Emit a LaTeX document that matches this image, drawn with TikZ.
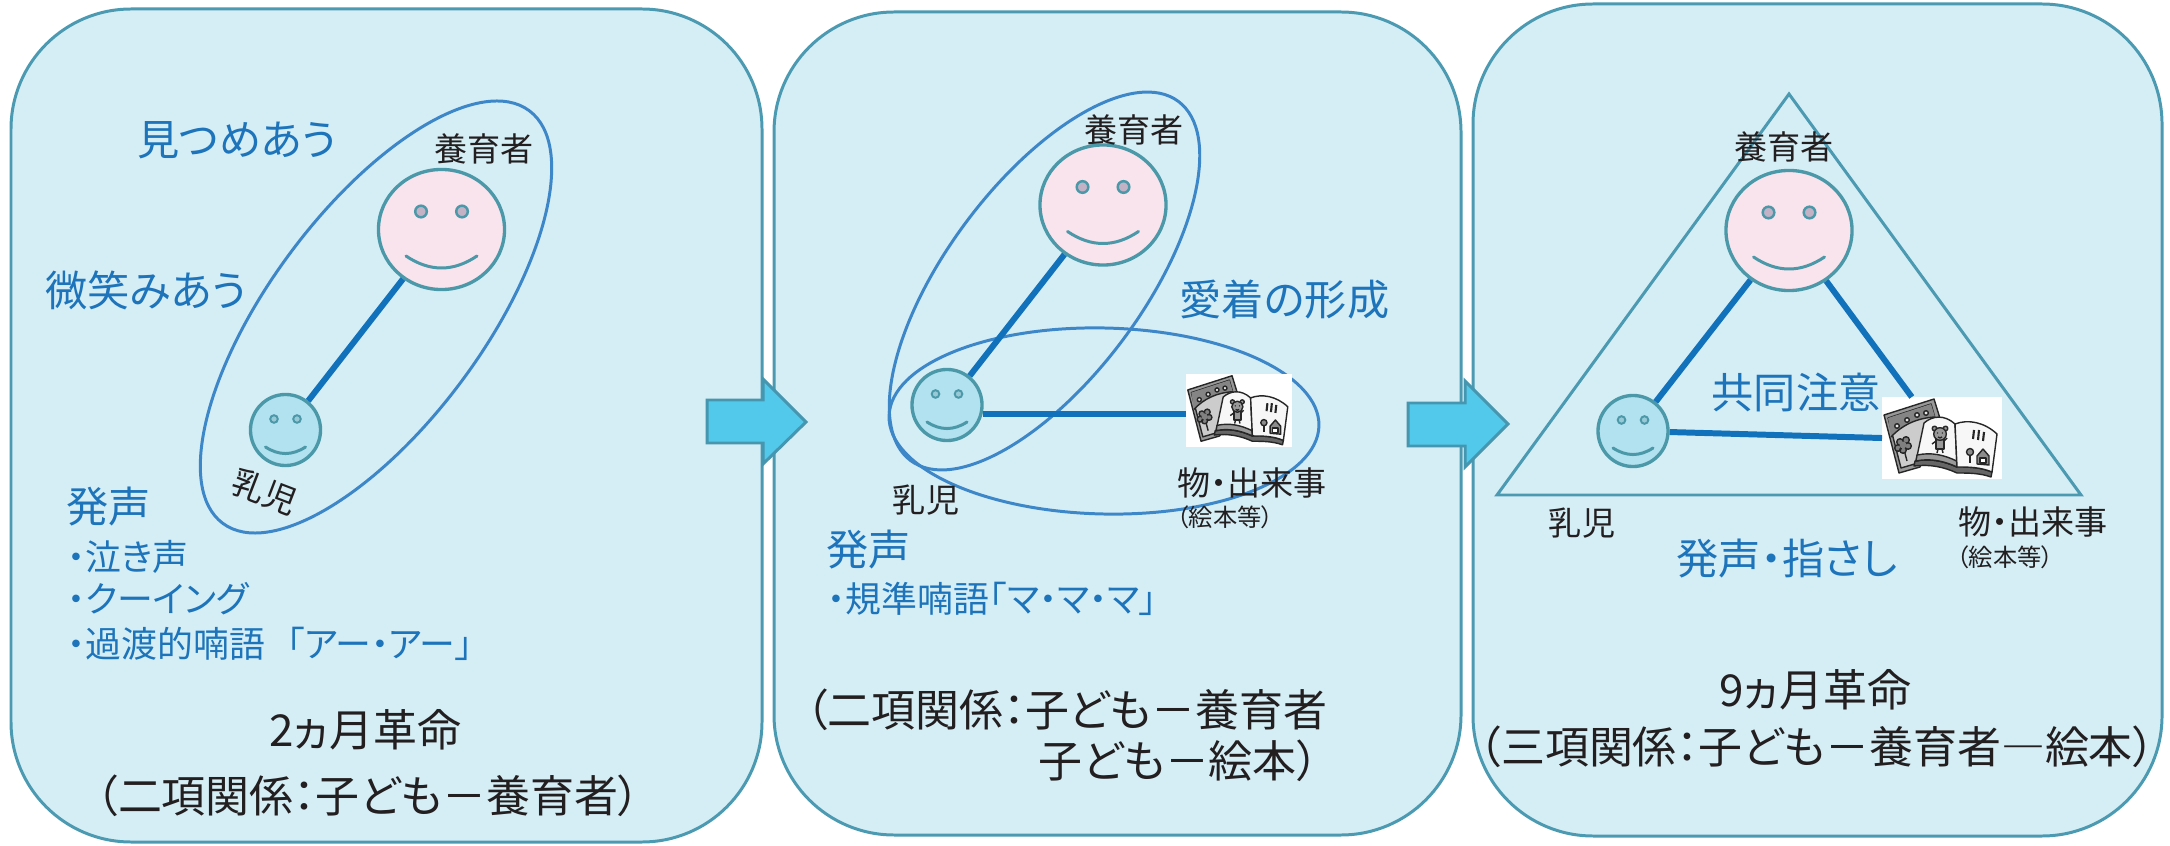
\documentclass[tikz,border=0pt]{standalone}
\usepackage{fontspec}
\setmainfont{Noto Sans CJK JP}[RawFeature=+palt]
\usetikzlibrary{shapes.geometric}

\definecolor{panelfill}{HTML}{D5EEF6}
\definecolor{panelline}{HTML}{4B9AB1}
\definecolor{grpline}{HTML}{3D87C9}
\definecolor{linkblue}{HTML}{1172BB}
\definecolor{facec}{HTML}{4A98A8}
\definecolor{pinkfill}{HTML}{F9E3EC}
\definecolor{babyfill}{HTML}{B2E1F0}
\definecolor{eyefill}{HTML}{C3B2C6}
\definecolor{babyeye}{HTML}{97C9D6}
\definecolor{bluetext}{HTML}{1D74BA}
\definecolor{blacktext}{HTML}{231F20}
\definecolor{arrowfill}{HTML}{52C9EB}
\definecolor{arrowline}{HTML}{4796AF}

\newcommand\fsHead{\fontsize{12}{14}\selectfont}
\newcommand\fsLabel{\fontsize{9.4}{11}\selectfont}
\newcommand\fsSmall{\fontsize{6.9}{8}\selectfont}
\newcommand\fsItem{\fontsize{10.2}{12}\selectfont}
\newcommand\fsCap{\fontsize{12.5}{15}\selectfont}

\tikzset{
  panel/.style={draw=panelline, fill=panelfill, line width=0.85pt, rounded corners=1.2cm},
  bigarrow/.style={draw=arrowline, fill=arrowfill, line width=0.85pt, line join=miter},
  grp/.style={draw=grpline, line width=0.85pt},
  tri/.style={draw=panelline, line width=0.85pt, line join=miter},
  link/.style={draw=linkblue, line width=1.7pt},
  face/.style={ellipse, draw=facec, line width=0.95pt, inner sep=0pt},
  smile/.style={draw=facec, line width=0.85pt, line cap=round},
  eye/.style={draw=facec, line width=0.7pt, fill=eyefill},
  headtxt/.style={text=bluetext, inner sep=0pt, font=\fsHead},
  itemtxt/.style={text=bluetext, inner sep=0pt, font=\fsItem, anchor=west},
  labeltxt/.style={text=blacktext, inner sep=0pt, font=\fsLabel},
  smalltxt/.style={text=blacktext, inner sep=0pt, font=\fsSmall, anchor=west},
  captxt/.style={text=blacktext, inner sep=0pt, font=\fsCap},
  adult/.pic={
    \node[face, fill=pinkfill, minimum width=1.26cm, minimum height=1.2cm] (-face) at (0,0) {};
    \path[eye] (-20.5,-18) circle[radius=5.8] (20.5,-18) circle[radius=5.8];
    \draw[smile] (-35.5,26.5) .. controls (-11.8,42.5) and (11.8,42.5) .. (35.5,26.5);
  },
  baby/.pic={
    \node[face, fill=babyfill, minimum width=0.70cm, minimum height=0.71cm] (-face) at (0,0) {};
    \path[eye, fill=babyeye, line width=0.55pt] (-11.5,-11) circle[radius=3.8] (11.5,-11) circle[radius=3.8];
    \draw[smile] (-20,17) .. controls (-6.7,25.7) and (6.7,25.7) .. (20,17);
  },
  storybook/.pic={
    \node[fill=white, inner sep=0pt, outer sep=0pt, minimum width=1.2cm, minimum height=0.82cm, anchor=north west] (-img) at (0,0) {};
    \begin{scope}[line width=0.4pt, draw=black!85, line join=round]
      % closed book lying behind
      \filldraw[fill=black!40] (2,18) -- (52,2) -- (60,28) -- (38,70) -- (17,76) -- cycle;
      \filldraw[fill=black!20] (6,21) -- (49,7) -- (55,28) -- (36,66) -- (19,71) -- cycle;
      \fill[black!48] (6,21) -- (49,7) -- (53,20) .. controls (35,21) and (20,28) .. (9,40) -- cycle;
      \draw (9,40) .. controls (20,28) and (35,21) .. (53,20);
      \filldraw[fill=black!10] (15,29) circle[radius=2.3] (25,23) circle[radius=2.3]
                               (35,18) circle[radius=2.3] (44,16) circle[radius=2.3];
      \draw (22,52) .. controls (23,57) and (24,60) .. (25,64);
      \filldraw[fill=black!50] (18,45) circle[radius=3.3] (24,43) circle[radius=3.3]
                               (26,49) circle[radius=3.3] (21,53) circle[radius=3.3]
                               (16,51) circle[radius=3.3];
      \fill[black!50] (21,48) circle[radius=3.5];
      % page edges of the open book
      \filldraw[fill=black!60] (33,64) .. controls (48,61) and (62,64) .. (75,70)
          .. controls (86,70) and (98,70) .. (110,75) -- (109,80)
          .. controls (98,76) and (86,76) .. (75,76)
          .. controls (62,70) and (48,67) .. (32,69) -- cycle;
      % left page with the bear
      \filldraw[fill=black!3] (42,26) .. controls (50,19) and (62,17) .. (73,27) -- (75,70)
          .. controls (62,64) and (48,61) .. (34,64) -- cycle;
      \filldraw[fill=black!40] (35,58) .. controls (50,55) and (62,58) .. (74.6,64) -- (75,70)
          .. controls (62,64) and (48,61) .. (34,64) -- cycle;
      \filldraw[fill=black!40] (54,42) rectangle (62,52);
      \draw (54,44) -- (50,47) (62,44) -- (65,41) (56,52) -- (55,56) (60,52) -- (61,56);
      \filldraw[fill=black!40] (52.5,31.5) circle[radius=2.3] (63.5,31.5) circle[radius=2.3];
      \filldraw[fill=black!40] (58,37) circle[radius=6.3];
      \fill[black!85] (55.6,36) circle[radius=0.8] (60.4,36) circle[radius=0.8];
      \draw (56,40) .. controls (57,41.2) and (59,41.2) .. (60,40);
      % right page with tree and house
      \filldraw[fill=black!3] (73,27) .. controls (86,22) and (102,25) .. (115,37) -- (110,75)
          .. controls (98,70) and (86,70) .. (75,70) -- cycle;
      \draw[line width=0.6pt] (92,33) -- (91,42) (97,33) -- (96,43) (102,35) -- (101,44);
      \draw (88,58.5) -- (88,66);
      \filldraw[fill=black!45] (88,55) circle[radius=3.5];
      \filldraw[fill=black!45] (95,67) -- (95,59) -- (101,52) -- (107,59) -- (107,68) -- cycle;
      \filldraw[fill=white] (98,61) rectangle (104,66);
    \end{scope}
  }
}

\begin{document}
\begin{tikzpicture}[x=0.01cm, y=-0.01cm]
  \useasboundingbox (0,0) rectangle (2170,846);
  \fill[white] (0,0) rectangle (2170,846);

  % three stage panels
  \path[panel] (11,9) rectangle (762,842);
  \path[panel] (774,12) rectangle (1461,835);
  \path[panel] (1473,4) rectangle (2162,836);

  % block arrows between the stages
  \path[bigarrow] (707,400) -- (763,400) -- (763,379) -- (806,422) -- (763,464) -- (763,443) -- (707,443) -- cycle;
  \path[bigarrow] (1408,403) -- (1465,403) -- (1465,381) -- (1508,424) -- (1465,467) -- (1465,446) -- (1408,446) -- cycle;

  % grouping ellipses and the triangle
  \draw[grp, rotate around={53.4:(376,317)}] (376,317) ellipse [x radius=257, y radius=107];
  \draw[grp, rotate around={53.3:(1044.5,281)}] (1044.5,281) ellipse [x radius=224, y radius=98];
  \draw[grp, rotate around={-1.3:(1104,421)}] (1104,421) ellipse [x radius=215, y radius=93];
  \draw[tri] (1789,94) -- (1497,495) -- (2081,495) -- cycle;

  % faces and picture books
  \pic (cg1) at (441.5,229.5) {adult};
  \pic (inf1) at (285.5,430) {baby};
  \pic (cg2) at (1103,205) {adult};
  \pic (inf2) at (947,405) {baby};
  \pic (cg3) at (1789,230.5) {adult};
  \pic (inf3) at (1633,431) {baby};
  \begin{scope}[shift={(1186,374)}, scale=0.885, transform shape]
    \pic (bk2) at (0,0) {storybook};
  \end{scope}
  \pic (bk3) at (1882,397) {storybook};

  % relations
  \draw[link] (cg1-face) -- (inf1-face);
  \draw[link] (cg2-face) -- (inf2-face);
  \draw[link] (inf2-face.-14) -- (bk2-img.west |- inf2-face.-14);
  \draw[link] (cg3-face) -- (inf3-face);
  \draw[link] (cg3-face) -- (bk3-img);
  \draw[link] (inf3-face) -- (bk3-img.west);

  % stage 1 texts
  \node[headtxt] (t1a) at (237,140) {見つめあう};
  \node[headtxt] (t1b) at (146,290) {微笑みあう};
  \node[labeltxt] (t1c) at (484,149) {養育者};
  \node[labeltxt, rotate=-21] (t1d) at (265,492) {乳児};
  \node[headtxt, anchor=west] (t1e) at (66,507) {発声};
  \node[itemtxt] (t1f) at (67,557) {・泣き声};
  \node[itemtxt] (t1g) at (67,599) {・クーイング};
  \node[itemtxt] (t1h) at (67,644) {・過渡的喃語\hspace{0.6em}「アー・アー」};
  \node[captxt] (t1i) at (365,730) {2ヵ月革命};
  \node[captxt] (t1j) at (368,796) {（二項関係：子ども－養育者）};

  % stage 2 texts
  \node[labeltxt] (t2a) at (1134,130) {養育者};
  \node[headtxt, anchor=west] (t2b) at (1179,300) {愛着の形成};
  \node[labeltxt] (t2c) at (926,500) {乳児};
  \node[labeltxt, anchor=west] (t2d) at (1177,483) {物・出来事};
  \node[smalltxt] (t2e) at (1176,517) {（絵本等）};
  \node[headtxt, anchor=west] (t2f) at (826,550) {発声};
  \node[itemtxt] (t2g) at (827,599) {・規準喃語「マ・マ・マ」};
  \node[captxt, anchor=west] (t2h) at (805,710) {（二項関係：子ども－養育者};
  \node[captxt, anchor=west] (t2i) at (1038,761) {子ども－絵本）};

  % stage 3 texts
  \node[labeltxt] (t3a) at (1784,147) {養育者};
  \node[headtxt] (t3b) at (1796,392) {共同注意};
  \node[labeltxt] (t3c) at (1582,523) {乳児};
  \node[labeltxt, anchor=west] (t3d) at (1958,522) {物・出来事};
  \node[smalltxt] (t3e) at (1956,557) {（絵本等）};
  \node[headtxt] (t3f) at (1787,559) {発声・指さし};
  \node[captxt] (t3g) at (1815,690) {9ヵ月革命};
  \node[captxt] (t3h) at (1817,747) {（三項関係：子ども－養育者―絵本）};
\end{tikzpicture}
\end{document}
